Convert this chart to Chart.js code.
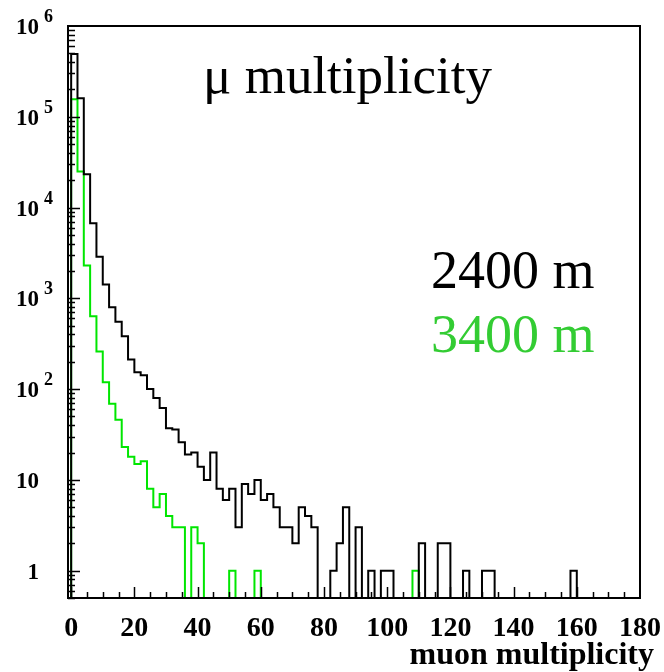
<!DOCTYPE html>
<html>
<head>
<meta charset="utf-8">
<script src="https://cdn.jsdelivr.net/npm/chart.js@4/dist/chart.umd.min.js"></script>
<style>
  html, body { margin: 0; padding: 0; background: #fff; }
  #wrap { width: 664px; height: 672px; position: relative; }
</style>
</head>
<body>
<div id="wrap"><canvas id="muChart"></canvas></div>
<script>
  // histogram, bins of width 2 starting at 0
  const binWidth = 2;

  // 2400 m (black)
  const counts2400 = [
    490000, 160000, 23300, 6700, 2880, 1420, 800, 552, 383, 212,
    153, 142, 100, 80, 62, 37, 36, 26, 19, 20,
    14, 10, 20, 8, 6, 8, 3, 9, 7, 10,
    6, 7, 5, 3, 3, 2, 5, 4, 3, 0,
    0, 1, 2, 5, 0, 3, 0, 1, 0, 1,
    1, 0, 0, 0, 0, 2, 0, 0, 2, 2,
    0, 0, 1, 0, 0, 1, 1, 0, 0, 0,
    0, 0, 0, 0, 0, 0, 0, 0, 0, 1
  ];

  // 3400 m (green)
  const counts3400 = [
    156000, 25000, 2300, 636, 259, 119, 69, 46, 23, 18,
    15, 16, 8, 5, 7, 4, 3, 3, 0, 3,
    2, 0, 0, 0, 0, 1, 0, 0, 0, 1,
    0, 0, 0, 0, 0, 0, 0, 0, 0, 0,
    0, 0, 0, 0, 0, 0, 0, 0, 0, 0,
    0, 0, 0, 0, 1
  ];

  const seriesNames = ["2400 m", "3400 m"];
  const xTickLabels = [0, 20, 40, 60, 80, 100, 120, 140, 160, 180];
  const yDecades = [1, 10, 100, 1000, 10000, 100000, 1000000];

  const xMin = -1, xMax = 180, yMin = 0.5, yMax = 1e6;

  function histPoints(counts) {
    const low = yMin / 10; // empty bins fall below the frame
    const pts = [{ x: 0, y: low }];
    counts.forEach(function (c, i) {
      pts.push({ x: i * binWidth, y: c > 0 ? c : low });
    });
    pts.push({ x: counts.length * binWidth, y: low });
    return pts;
  }

  const serif = '"Liberation Serif", "Times New Roman", serif';

  const decorations = {
    id: 'decorations',
    afterDatasetsDraw(chart) {
      const ctx = chart.ctx;
      const a = chart.chartArea;
      const xs = chart.scales.x, ys = chart.scales.y;
      ctx.save();
      ctx.strokeStyle = '#000';
      ctx.lineWidth = 1.5;
      ctx.beginPath();
      // x ticks every 5, long every 20
      for (let v = 0; v < xMax; v += 5) {
        const px = Math.round(xs.getPixelForValue(v)) + 0.5;
        const len = v % 20 === 0 ? 11 : 6;
        ctx.moveTo(px, a.bottom);
        ctx.lineTo(px, a.bottom - len);
      }
      // y ticks, log decades + minors
      for (let e = -1; e < 6; e++) {
        for (let m = 1; m < 10; m++) {
          const v = m * Math.pow(10, e);
          if (v < yMin || v >= yMax) continue;
          const py = Math.round(ys.getPixelForValue(v)) + 0.5;
          const len = m === 1 ? 12 : 7;
          ctx.moveTo(a.left, py);
          ctx.lineTo(a.left + len, py);
        }
      }
      ctx.stroke();
      ctx.lineWidth = 2;
      ctx.strokeRect(a.left, a.top, a.right - a.left, a.bottom - a.top);
      ctx.restore();
    },
    afterDraw(chart) {
      const ctx = chart.ctx;
      const a = chart.chartArea;
      const xs = chart.scales.x, ys = chart.scales.y;
      ctx.save();
      ctx.fillStyle = '#000';

      // x tick labels
      ctx.font = 'bold 28px ' + serif;
      ctx.textAlign = 'center';
      ctx.textBaseline = 'alphabetic';
      xTickLabels.forEach(function (v) {
        ctx.fillText(String(v), xs.getPixelForValue(v), a.bottom + 38);
      });

      // y tick labels with exponents
      yDecades.forEach(function (v) {
        const py = ys.getPixelForValue(v);
        const k = Math.round(Math.log10(v));
        ctx.font = 'bold 23px ' + serif;
        ctx.textAlign = 'right';
        ctx.fillText(k === 0 ? '1' : '10', 39, py + 8);
        if (k > 1) {
          ctx.font = 'bold 18px ' + serif;
          ctx.textAlign = 'left';
          ctx.fillText(String(k), 44, py - 4);
        }
      });

      // titles
      ctx.textAlign = 'left';
      ctx.font = '53px ' + serif;
      ctx.fillText('\u03bc multiplicity', 203, 93);

      ctx.font = '54px ' + serif;
      ctx.fillStyle = '#000';
      ctx.fillText(seriesNames[0], 431, 288);
      ctx.fillStyle = '#33cc33';
      ctx.fillText(seriesNames[1], 431, 352);

      ctx.fillStyle = '#000';
      ctx.font = 'bold 32px ' + serif;
      ctx.textAlign = 'right';
      ctx.fillText('muon multiplicity', 654, 664);
      ctx.restore();
    }
  };

  new Chart(document.getElementById('muChart'), {
    type: 'line',
    data: {
      datasets: [
        {
          label: seriesNames[0],
          data: histPoints(counts2400),
          borderColor: '#000',
          borderWidth: 2,
          stepped: 'before',
          pointRadius: 0,
          fill: false
        },
        {
          label: seriesNames[1],
          data: histPoints(counts3400),
          borderColor: '#00e600',
          borderWidth: 2,
          stepped: 'before',
          pointRadius: 0,
          fill: false
        }
      ]
    },
    options: {
      responsive: true,
      maintainAspectRatio: false,
      animation: false,
      layout: { padding: { left: 68, top: 26, right: 24, bottom: 74 } },
      plugins: { legend: { display: false }, tooltip: { enabled: false } },
      scales: {
        x: { type: 'linear', min: xMin, max: xMax, display: false },
        y: { type: 'logarithmic', min: yMin, max: yMax, display: false }
      }
    },
    plugins: [decorations]
  });
</script>
</body>
</html>
